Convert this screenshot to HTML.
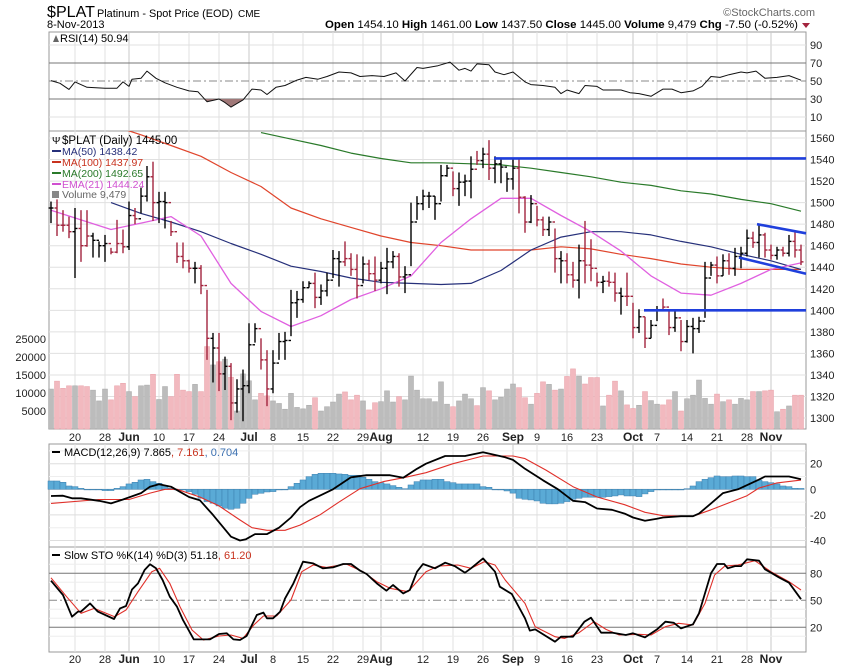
<!DOCTYPE html>
<html><head><meta charset="utf-8"><style>
body{margin:0;background:#fff;}
svg{display:block;font-family:"Liberation Sans",sans-serif;}
</style></head><body>
<svg id="c" width="850" height="668" viewBox="0 0 850 668">
<g id="grid"></g><g id="marks"></g><g id="txt"></g>
</svg>
<script>
const hi=[1501,1503,1493,1487,1495,1493,1493,1472,1464,1470,1458,1484,1475,1501,1495,1514,1534,1538,1510,1510,1483,1463,1463,1447,1445,1442,1419,1379,1379,1357,1351,1336,1345,1388,1388,1374,1363,1363,1379,1380,1419,1418,1427,1427,1435,1424,1435,1456,1455,1464,1453,1452,1450,1447,1450,1445,1458,1455,1453,1441,1500,1506,1512,1510,1506,1535,1535,1529,1528,1526,1543,1548,1551,1558,1543,1540,1528,1540,1540,1506,1507,1497,1487,1487,1476,1455,1453,1445,1461,1483,1466,1435,1432,1436,1435,1421,1435,1407,1401,1394,1391,1404,1411,1401,1399,1391,1391,1393,1394,1445,1445,1450,1452,1453,1458,1459,1475,1473,1480,1472,1461,1459,1459,1470,1473,1461];
const lo=[1481,1469,1473,1467,1430,1445,1459,1449,1449,1445,1452,1453,1453,1456,1480,1490,1501,1483,1481,1476,1469,1444,1439,1435,1425,1415,1354,1333,1325,1326,1298,1305,1297,1323,1370,1345,1311,1323,1354,1354,1376,1393,1407,1421,1402,1405,1413,1430,1422,1441,1432,1411,1425,1428,1418,1425,1415,1439,1422,1416,1441,1484,1493,1495,1484,1501,1524,1506,1497,1506,1504,1535,1532,1521,1518,1518,1510,1512,1490,1472,1481,1478,1469,1469,1435,1425,1425,1421,1411,1425,1427,1422,1416,1422,1408,1396,1404,1374,1379,1365,1374,1390,1399,1377,1380,1362,1370,1360,1379,1393,1432,1425,1432,1433,1432,1439,1450,1458,1449,1449,1447,1447,1450,1450,1449,1442];
const cl=[1495,1479,1479,1473,1476,1460,1469,1465,1460,1462,1454,1462,1459,1488,1485,1506,1524,1500,1501,1500,1473,1450,1446,1439,1439,1423,1374,1365,1341,1348,1314,1327,1330,1368,1383,1354,1327,1351,1371,1372,1407,1410,1421,1425,1412,1418,1428,1448,1445,1448,1438,1423,1443,1434,1428,1439,1445,1450,1431,1433,1482,1499,1506,1506,1499,1525,1532,1513,1519,1520,1531,1539,1545,1532,1536,1533,1522,1532,1505,1482,1499,1484,1475,1482,1448,1446,1433,1428,1446,1442,1439,1426,1427,1426,1416,1413,1413,1384,1394,1374,1386,1400,1403,1384,1393,1371,1385,1383,1390,1430,1442,1432,1446,1439,1450,1453,1467,1463,1470,1456,1451,1456,1453,1464,1456,1445];
const up=[1,0,0,0,1,0,0,1,1,1,0,0,0,1,0,1,1,0,1,1,0,0,0,0,1,0,0,1,0,1,0,1,1,1,1,0,0,1,1,1,1,1,1,1,0,1,1,1,1,0,0,0,1,0,0,1,1,1,0,1,1,1,1,1,1,1,1,0,1,1,1,0,1,0,1,1,1,1,0,0,1,0,0,1,0,1,0,0,1,0,0,0,1,0,0,1,0,0,1,0,1,1,0,0,1,0,1,1,1,1,1,0,1,0,1,1,1,0,1,0,0,1,0,1,0,0];
const vol=[11100,13300,11300,12000,12000,12000,11800,10800,7800,11100,8100,12000,12700,10400,9000,12000,12200,15200,8200,11800,9000,15200,10800,10400,12400,10400,22900,17800,18700,19400,14400,5000,15300,13400,8100,9900,9200,7800,7100,5500,9900,6000,5600,6600,8700,5000,6200,7500,9700,10300,8100,9400,7800,5300,7300,7600,10600,7500,9000,8100,14700,10800,8400,8400,7600,13100,6900,6200,7800,9700,8400,6500,11500,10600,8100,8800,11100,12500,11500,8700,6900,9900,13100,12400,10800,11100,14600,16700,14700,12500,14300,14300,6400,9400,13300,10600,6700,5700,6600,10400,7900,6900,6700,8100,10400,5000,8400,9400,13600,8500,6900,9700,7600,8100,6900,8500,8100,10400,10400,10600,10800,4800,5500,6400,9400,9400];
const maIdx=[10,15,20,25,30,35,40,45,50,55,60,65,70,75,80,85,90,95,100,105,110,115,120,125];
const ma50=[1500,1490,1482,1473,1462,1452,1441,1436,1430,1426,1425,1424,1425,1437,1456,1468,1473,1473,1470,1464,1459,1452,1446,1438];
const ma100=[1572,1563,1553,1543,1528,1515,1495,1485,1477,1469,1463,1460,1456,1456,1456,1459,1457,1452,1448,1443,1440,1438,1438,1438];
const ma200Idx=[35,40,45,50,55,60,65,70,75,80,85,90,95,100,105,110,115,120,125];
const ma200=[1565,1559,1553,1546,1541,1537,1537,1536,1535,1532,1528,1524,1519,1516,1511,1508,1503,1499,1492];
const emaIdx=[0,5,10,15,20,25,30,35,40,45,50,55,60,65,70,75,80,85,90,95,100,105,110,115,120,125];
const ema21=[1493,1484,1475,1481,1487,1469,1425,1399,1385,1395,1410,1420,1432,1463,1485,1504,1504,1488,1473,1455,1432,1416,1414,1425,1438,1444];
const rsiIdx=[0,1.5,3,4,6,9,11,12,13,13.5,15,16,17.5,19,21,23,24.5,26,28,29,30,32,33.5,35,36,37.5,39,41,42.5,44.5,46,48,50,51.5,53.5,55.5,57.5,59,61,62,64.5,66.5,68,69,70,71,73,74,75.5,77,79,80,82,84,85,86,88,89,91,92,95,96.5,98,100,102,103.5,105,107,108.5,110,111.5,113,115,116,117.5,119,121,123,125];
const rsi=[50.4,47.4,40.7,49,43,42,42,49,44,52,53,61,53,48,43,39,38,27,30,26,21,29,41,40,35,43,45,51,54,52,55,60,59,55,56,55,59,50,65,64,67,71,62,64,61,69,68,60,57,60,49,46,45,43,36,40,36,45,44,40,40,37,36,33,41,41,37,39,44,55,54,57,60,59,61,53,54,56,50.9];
const macdIdx=[0,2,3.5,5,8,10,12,15,16.5,18,20,23,24.8,27,30,31.5,32.5,34,36,38,40,41.5,43,44.8,47,50,52.6,56.5,58.7,61,62.5,65.7,69,72,75.7,77,79,82,84.5,87,89,91,93.5,95.6,97,99,101,102,105,107,108,110,112,114.5,118,119,121,123,125];
const macd=[-5.2,-5,-7,-7,-9,-11,-8,-3,2,4,2,-6,-8.5,-20,-37,-40,-39,-35,-35,-30,-22,-14,-9,-5,0,9.4,11,11,9,16,20,26,26,29,25,23,16,7,0,-9,-10,-15,-16,-19,-22,-24.6,-23,-22,-21,-21,-19,-11,-3,0,7.6,10,10,10,7.865];
const sigIdx=[0,8,13,16.5,19,21,24.8,28,31.5,33.5,36,39,41.5,44.8,48,51.5,55.4,58.7,62.5,67,72,77,79,82.5,87,91,95.6,99,102,107,110,116,118,121,125];
const sig=[-11,-8,-8,-3,0,0,-6,-13,-24,-30,-32,-32,-28,-20,-10,0.5,6,9,13,20,26,26,24,15,2,-6,-12,-18,-20.6,-21,-16,-5,1,5,7.161];
const hist=[6.5,6.5,5.5,2.6,2.1,0.8,0,0,0,-1,-1,0.8,2.1,4.2,5.5,7.3,7.8,6,4.7,2.6,0.8,0,-0.5,-1.8,-3.9,-7,-9.6,-10.9,-13,-14.8,-15.6,-14.8,-10.9,-7,-3.9,-3.1,-2.1,-1.8,-0.5,0,2.1,4.7,7.3,9.9,11.7,12.5,12.5,12.5,12,11.7,11,11,9.4,7.8,6,5.2,4.2,2.9,1.6,0.5,3.4,6,7.3,7.3,7.8,7.8,6,5.2,4.2,4.2,4.2,4.2,2.1,1.6,0,-0.5,-1.3,-3,-7,-7.8,-8.3,-9.1,-10.9,-11.4,-11.4,-10.9,-9.6,-7.8,-7,-6.2,-6.2,-6.2,-6.2,-5.7,-5.2,-4.4,-5.2,-5.2,-5.7,-3.6,-1.8,-0.5,-0.5,-0.5,-0.5,-0.5,0.5,2.6,6,7.8,9.1,10.4,9.9,9.9,10.4,10.4,9.9,9.9,7.3,6,5.2,4.2,2.6,2.1,0.8,0.7];
const kIdx=[0,2,3.5,4.5,5,6.5,7.8,10.5,11.5,12.5,13.5,14.5,15.6,16.5,17.5,18.6,19.8,21,22,23.8,25,26.5,28,29.3,30.4,31.5,32.6,34.3,35.4,36,37,38.2,39,40.4,42,43.7,45.3,47,48.7,50,51.5,52.6,54.3,55.9,57,58.7,59.8,61,62,64,65.7,67.3,69,70,72,74,74.8,76.8,79,79.8,80.7,84,85,87,88.9,90,91.7,93.6,95.8,97,99,101,102.4,103.8,105,107,108,110,111,112.2,112.8,114,115,116,118,119,120,121.3,123,125];
const stoK=[71.8,55.9,31.8,37.4,37.4,46.6,37.4,29.2,41,43.7,62,68.8,83.7,90,85.5,72.5,54,42.9,28,6.6,6.6,6.6,12.5,13.3,6.6,5.9,10.3,33.7,36.3,30,30,37.4,52,68.8,92.9,91,85.5,86.6,90.3,90.3,83,79.2,68.8,60.7,67,57.7,61.4,81.8,90.3,85.5,91.8,88,80.7,85.5,96.6,81.8,65.1,57,30,16.3,17.7,4,9.6,9.6,26.2,30.7,14,14,11.4,13.3,8.8,17.7,26.2,25,18.8,23.3,35.5,80,90.3,90.3,85.5,88,88,95.5,94,84.4,80.7,75.5,69.6,51.18];
const dIdx=[0,2.6,5,7.2,10.6,12.5,14.5,16.8,18.1,19.8,21.5,23.5,25.4,28,30,32,33.8,35.4,37.6,40,41.8,43.7,45.9,49.2,52,54.3,56.5,59.5,62.5,64.5,67.8,70,72.2,74,75.7,79,80.7,84,85.6,88,90.5,92.5,94.7,98,100,102.4,104.6,107,109,110.6,112.3,114.5,117.3,120,123,125];
const stoD=[75,54,35.5,41,31.8,39.2,59.6,81.8,85.5,68.8,42.9,17,5.9,10.3,11.4,7.7,22.5,32.5,32.5,50.3,81.8,89.2,86.6,90.3,81.8,70.7,63.3,59.6,81.8,88,89.2,85.5,92.9,89.2,72.5,46.6,20.7,9.6,7.7,14,26.2,17.7,11.4,12.2,11.4,20.7,24.4,22.5,46.6,78.1,88,89.2,94,81.8,70.7,61.4];
const dateIdx=[4,9,13,18,23,28,33,37,42,47,52,55,62,67,72,77,81,86,91,97,101,106,111,116,120];
const dateTxt=["20","28","Jun","10","17","24","Jul","8","15","22","29","Aug","12","19","26","Sep","9","16","23","Oct","7","14","21","28","Nov"];
const priceTicks=[1560,1540,1520,1500,1480,1460,1440,1420,1400,1380,1360,1340,1320,1300];
const volTicks=[25000,20000,15000,10000,5000];
const rsiTicks=[90,70,50,30,10];
const macdTicks=[20,0,-20,-40];
const stoTicks=[80,50,20];

const NS="http://www.w3.org/2000/svg";
const L=49,R=806;
const X=i=>51+6*i;
const PY=p=>138+(1560-p)*1.077;
const VY=v=>429-v*0.0036;
const RY=v=>81-(v-50)*0.9;
const MY=v=>489.3-v*1.28;
const SY=v=>600.3-(v-50)*0.9;
const G=document.getElementById('grid'),M=document.getElementById('marks'),T=document.getElementById('txt');
function mk(tag,attrs,parent){const e=document.createElementNS(NS,tag);for(const k in attrs)e.setAttribute(k,attrs[k]);(parent||M).appendChild(e);return e;}
function txt(x,y,s,size,fill,anchor,weight,parent){const e=mk('text',{x:x,y:y,'font-size':size,fill:fill,'text-anchor':anchor||'start','font-weight':weight||'normal'},parent||T);e.textContent=s;return e;}
function hline(y,stroke,w,dash,name){const e=mk('line',{x1:L,x2:R,y1:y,y2:y,stroke:stroke,'stroke-width':w,'stroke-dasharray':dash||'none'},G);

}
function poly(idx,vals,fy,stroke,w,name,clip){let d='';for(let k=0;k<idx.length;k++)d+=(k?'L':'M')+X(idx[k]).toFixed(1)+','+fy(vals[k]).toFixed(1);
const e=mk('path',{d:d,fill:'none',stroke:stroke,'stroke-width':w,'stroke-linejoin':'round'});if(clip)e.setAttribute('clip-path',clip);

return e;}

const defs=mk('defs',{},document.getElementById('c'));
const cp=mk('clipPath',{id:'mainclip'},defs);mk('rect',{x:L,y:131,width:R-L,height:298},cp);

const panels=[[32,131,'rsi-panel'],[131,429,'price-panel'],[444,547,'macd-panel'],[547,652,'sto-panel']];
panels.forEach(p=>{const e=mk('rect',{x:L,y:p[0],width:R-L,height:p[1]-p[0],fill:'#fff',stroke:'#999','stroke-width':1},G);

});

dateIdx.forEach((d,k)=>{const month=/[A-Z]/.test(dateTxt[k]);[[32,429],[444,652]].forEach(r=>{mk('line',{x1:X(d),x2:X(d),y1:r[0],y2:r[1],stroke:month?'#c8c8c8':'#e0e0e0','stroke-width':1},G);});});

priceTicks.forEach(p=>{hline(PY(p),'#e0e0e0',1,null,'price-grid-'+p);const t=txt(810,PY(p)+4,String(p),11,'#222');

});
volTicks.forEach(v=>{const t=txt(46,VY(v)+4,String(v),11,'#222','end');

});
rsiTicks.forEach(v=>{const main=(v===70||v===30);hline(RY(v),main?'#777':(v===50?'#888':'#e0e0e0'),1,v===50?'8,3,2,3':null,'rsi-grid-'+v);const t=txt(810,RY(v)+4,String(v),11,'#222');

});
[-30,-10,10,30].forEach(v=>hline(MY(v),'#eeeeee',1,null,'macd-minor-grid'));
macdTicks.forEach(v=>{hline(MY(v),'#dddddd',1,null,'macd-grid-'+v);const t=txt(810,MY(v)+4,String(v),11,'#222');

});
[90,70,60,40,30,10].forEach(v=>hline(SY(v),'#eeeeee',1,null,'sto-minor-grid'));
stoTicks.forEach(v=>{hline(SY(v),v===50?'#888':'#777',1,v===50?'8,3,2,3':null,'sto-grid-'+v);const t=txt(810,SY(v)+4,String(v),11,'#222');

});

dateIdx.forEach((d,k)=>{const month=/[A-Z]/.test(dateTxt[k]);[441,663].forEach(y=>{const t=txt(X(d),y,dateTxt[k],month?12:11,'#222','middle',month?'bold':'normal');

});});

vol.forEach((v,i)=>{const e=mk('rect',{x:X(i)-2.5,y:VY(v),width:5,height:429-VY(v),fill:up[i]?'#bcbcbc':'#f2b9bf',stroke:up[i]?'#a8a8a8':'#e8a0a8','stroke-width':0.5});

});

poly(maIdx,ma100,PY,'#e0452c',1.2,'ma100-line','url(#mainclip)');
poly(ma200Idx,ma200,PY,'#2a7a2a',1.2,'ma200-line','url(#mainclip)');
poly(maIdx,ma50,PY,'#26307a',1.2,'ma50-line','url(#mainclip)');
poly(emaIdx,ema21,PY,'#e060e0',1.3,'ema21-line','url(#mainclip)');

hi.forEach((h,i)=>{const c=up[i]?'#000':'#a3243e';const x=X(i);const o=i?cl[i-1]:cl[i];
const g=mk('g',{stroke:c,'stroke-width':1.4});


mk('line',{x1:x,x2:x,y1:PY(h),y2:PY(lo[i])},g);
mk('line',{x1:x-2.5,x2:x,y1:PY(o),y2:PY(o)},g);
mk('line',{x1:x,x2:x+2.5,y1:PY(cl[i]),y2:PY(cl[i])},g);});

[[494,1541,806,1541,'resistance-line'],[644,1400,806,1400,'support-line'],[757,1480,806,1471.5,'channel-top-line'],[739,1449,806,1434,'channel-bottom-line']].forEach(t=>{const e=mk('line',{x1:t[0],y1:PY(t[1]),x2:t[2],y2:PY(t[3]),stroke:'#1f3fdc','stroke-width':2.6});

});

(function(){let pts=[];for(let k=0;k<rsiIdx.length;k++){if(rsiIdx[k]>=25.5&&rsiIdx[k]<=32.3)pts.push([X(rsiIdx[k]),RY(Math.min(rsi[k],30))]);}
let d='M'+X(25.4)+','+RY(30);pts.forEach(p=>d+='L'+p[0]+','+p[1]);d+='L'+X(32.4)+','+RY(30)+'Z';
const e=mk('path',{d:d,fill:'#a07878',stroke:'none'});

})();
poly(rsiIdx,rsi,RY,'#111',1,'rsi-line');

hist.forEach((v,i)=>{const y0=MY(0),y1=MY(v);const e=mk('rect',{x:X(i)-3,y:Math.min(y0,y1),width:6,height:Math.max(0.6,Math.abs(y1-y0)),fill:'#5aaad6',stroke:'#3d7fae','stroke-width':0.5});

});
poly(sigIdx,sig,MY,'#e0302a',1.1,'macd-signal-line');
poly(macdIdx,macd,MY,'#000',1.8,'macd-line');

poly(dIdx,stoD,SY,'#e0302a',1.1,'sto-d-line');
poly(kIdx,stoK,SY,'#000',1.8,'sto-k-line');

function named(t,n){return t;}
const t1=named(txt(47,17,'$PLAT',16,'#000'),'symbol-title');t1.setAttribute('textLength','48');t1.setAttribute('lengthAdjust','spacingAndGlyphs');
const t2=named(txt(97,17,'Platinum - Spot Price (EOD)',11,'#000'),'instrument-name');t2.setAttribute('textLength','136');t2.setAttribute('lengthAdjust','spacingAndGlyphs');
named(txt(238,17,'CME',10,'#000'),'exchange');
named(txt(47,28,'8-Nov-2013',11,'#000'),'date');
named(txt(815,16,'©StockCharts.com',11,'#666','end'),'watermark');
(function(){const t=mk('text',{x:325,y:28,'font-size':11,fill:'#000',textLength:473,lengthAdjust:'spacingAndGlyphs'},T);


t.innerHTML='<tspan font-weight="bold">Open</tspan> 1454.10 <tspan font-weight="bold">High</tspan> 1461.00 <tspan font-weight="bold">Low</tspan> 1437.50 <tspan font-weight="bold">Close</tspan> 1445.00 <tspan font-weight="bold">Volume</tspan> 9,479 <tspan font-weight="bold">Chg</tspan> -7.50 (-0.52%)';})();
named(mk('path',{d:'M802,23 L810,23 L806,28 Z',fill:'#a3243e'},T),'change-down-arrow');

named(txt(60,42,'RSI(14) 50.94',11,'#000'),'rsi-legend');
mk('path',{d:'M53,42 L56,35 L59,42 Z',fill:'#666'},T);
named(txt(62,144,'$PLAT (Daily) 1445.00',11.5,'#000'),'price-legend');
named(txt(52,144,'Ψ',10,'#000'),'bar-icon');
const leg=[['MA(50) 1438.42','#26307a',155],['MA(100) 1437.97','#c8321e',166],['MA(200) 1492.65','#2a7a2a',177],['EMA(21) 1444.24','#d050d0',188]];
leg.forEach(l=>{mk('line',{x1:52,x2:61,y1:l[2]-4,y2:l[2]-4,stroke:l[1],'stroke-width':2},T);named(txt(62,l[2],l[0],10.5,l[1]),'legend-'+l[0].split(' ')[0].toLowerCase().replace(/[()]/g,''));});
mk('rect',{x:52,y:191,width:7,height:7,fill:'#888'},T);
named(txt(62,198,'Volume 9,479',10.5,'#666'),'legend-volume');
mk('line',{x1:52,x2:60,y1:452,y2:452,stroke:'#000','stroke-width':2},T);
(function(){const t=mk('text',{x:64,y:456,'font-size':11,fill:'#000'},T);


t.innerHTML='MACD(12,26,9) 7.865<tspan fill="#c8321e">, 7.161</tspan><tspan fill="#3a6fb0">, 0.704</tspan>';})();
mk('line',{x1:52,x2:60,y1:555,y2:555,stroke:'#000','stroke-width':2},T);
(function(){const t=mk('text',{x:64,y:559,'font-size':11,fill:'#000'},T);


t.innerHTML='Slow STO %K(14) %D(3) 51.18<tspan fill="#c8321e">, 61.20</tspan>';})();
</script>
</body></html>
